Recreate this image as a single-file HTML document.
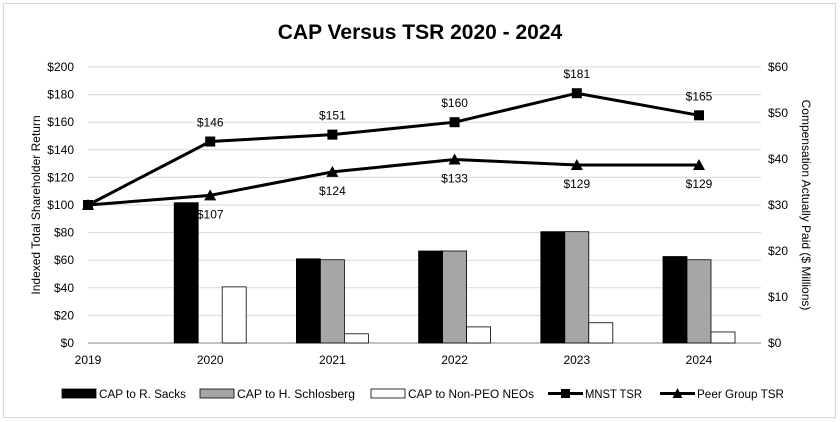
<!DOCTYPE html>
<html><head><meta charset="utf-8">
<style>
html,body{margin:0;padding:0;background:#fff;}
svg{display:block;font-family:"Liberation Sans",sans-serif;}
</style></head>
<body>
<svg id="chart" width="840" height="422" xmlns="http://www.w3.org/2000/svg">
<rect x="3.5" y="3.5" width="832" height="414" fill="#fff" stroke="#d9d9d9"/>
<text x="420" y="39" text-anchor="middle" font-size="21" font-weight="bold">CAP Versus TSR 2020 - 2024</text>
<text transform="translate(40,205) rotate(-90)" text-anchor="middle" font-size="12">Indexed Total Shareholder Return</text>
<text transform="translate(802,205) rotate(90)" text-anchor="middle" font-size="12">Compensation Actually Paid ($ Millions)</text>
<g id="grid"></g><g id="bars"></g><g id="lines"></g><g id="labels"></g><g id="legend"></g>
</svg>
<script>
const years = ["2019","2020","2021","2022","2023","2024"];
const sacks = [null, 30.5, 18.3, 20.0, 24.2, 18.8];
const schlosberg = [null, 0, 18.1, 20.0, 24.2, 18.1];
const nonPeo = [null, 12.2, 2.0, 3.5, 4.4, 2.4];
const mnstTsr = [100, 146, 151, 160, 181, 165];
const peerTsr = [100, 107, 124, 133, 129, 129];
const leftTicks = [0,20,40,60,80,100,120,140,160,180,200];
const rightTicks = [0,10,20,30,40,50,60];

const NS="http://www.w3.org/2000/svg";
const X0=88, STEP=122.2, Y0=343, YTOP=67, XR=761;
const xPos=i=>X0+i*STEP;
const yL=v=>Y0-(v/200)*(Y0-YTOP);
const yR=v=>Y0-(v/60)*(Y0-YTOP);
function mk(tag,attrs,parent,text){const e=document.createElementNS(NS,tag);for(const k in attrs)e.setAttribute(k,attrs[k]);if(text!==undefined)e.textContent=text;parent.appendChild(e);return e;}
const G=id=>document.getElementById(id);

leftTicks.forEach(t=>{
  const y=yL(t);
  const l=mk('line',{x1:X0,x2:XR,y1:y,y2:y,stroke:t===0?'#808080':'#d9d9d9','stroke-width':1},G('grid'));
  
  
  const tx=mk('text',{x:74,y:y+4,'text-anchor':'end','font-size':12},G('grid'),'$'+t);
  
  
});
rightTicks.forEach(t=>{
  const tx=mk('text',{x:768,y:yR(t)+4,'font-size':12},G('grid'),'$'+t);
  
  
});
years.forEach((yr,i)=>{
  const tx=mk('text',{x:xPos(i),y:364,'text-anchor':'middle','font-size':12},G('grid'),yr);
  
  
});

const BW=24;
const series=[[sacks,'#000','bar-sacks'],[schlosberg,'#a6a6a6','bar-schlosberg'],[nonPeo,'#fff','bar-non-peo']];
years.forEach((yr,i)=>{
  series.forEach((s,j)=>{
    const v=s[0][i]; if(v===null||v===0) return;
    const x=xPos(i)-BW*1.5+j*BW;
    const r=mk('rect',{x:x,y:yR(v),width:BW,height:Y0-yR(v),fill:s[1],stroke:'#000','stroke-width':0.8},G('bars'));
    
    
  });
});

function line(vals,name,marker){
  const pts=vals.map((v,i)=>xPos(i)+','+yL(v)).join(' ');
  const p=mk('polyline',{points:pts,fill:'none',stroke:'#000','stroke-width':3},G('lines'));
  
  
  vals.forEach((v,i)=>{
    const x=xPos(i),y=yL(v);let m;
    if(marker==='sq') m=mk('rect',{x:x-5,y:y-5,width:10,height:10,fill:'#000'},G('lines'));
    else m=mk('polygon',{points:`${x},${y-6} ${x+6},${y+5} ${x-6},${y+5}`,fill:'#000'},G('lines'));
    
    
  });
}
line(peerTsr,'peer-tsr','tri');
line(mnstTsr,'mnst-tsr','sq');
mnstTsr.forEach((v,i)=>{ if(i===0)return;
  const t=mk('text',{x:xPos(i),y:yL(v)-15,'text-anchor':'middle','font-size':12},G('labels'),'$'+v);
  
  
});
peerTsr.forEach((v,i)=>{ if(i===0)return;
  const t=mk('text',{x:xPos(i),y:yL(v)+23,'text-anchor':'middle','font-size':12},G('labels'),'$'+v);
  
  
});

const lg=G('legend');
const items=[[62,'box','#000','CAP to R. Sacks',87],[200,'box','#a6a6a6','CAP to H. Schlosberg',118],[371,'box','#fff','CAP to Non-PEO NEOs',126],[548,'sq','#000','MNST TSR',57],[660,'tri','#000','Peer Group TSR',87]];
items.forEach(it=>{
  const [x,type,col,label,tw]=it;
  const g=mk('g',{},lg);
  
  
  if(type==='box') mk('rect',{x:x,y:389,width:34,height:9,fill:col,stroke:'#000','stroke-width':0.8},g);
  else{
    mk('line',{x1:x,x2:x+35,y1:393.5,y2:393.5,stroke:'#000','stroke-width':3},g);
    if(type==='sq') mk('rect',{x:x+13,y:389,width:9,height:9,fill:'#000'},g);
    else mk('polygon',{points:`${x+17.5},388 ${x+22.5},398 ${x+12.5},398`,fill:'#000'},g);
  }
  mk('text',{x:x+37,y:398,'font-size':11.5,textLength:tw,lengthAdjust:'spacingAndGlyphs'},g,label);
});
</script>
</body></html>
